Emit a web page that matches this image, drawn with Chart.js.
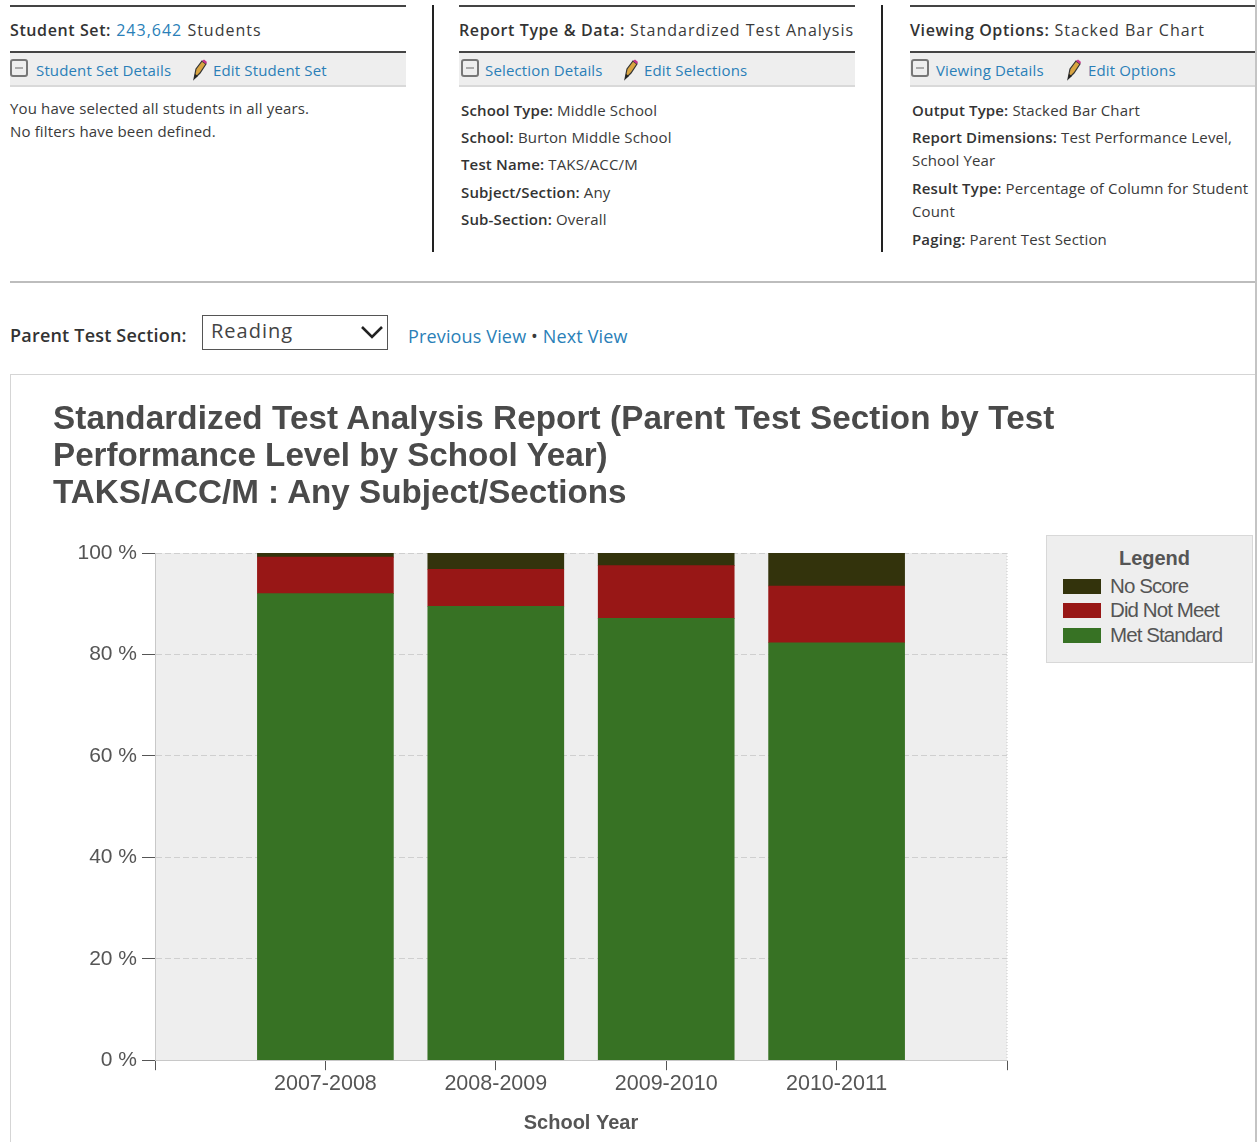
<!DOCTYPE html>
<html>
<head>
<meta charset="utf-8">
<title>Standardized Test Analysis Report</title>
<script src="https://cdn.jsdelivr.net/npm/chart.js@4"></script>
<style>
  html, body { margin: 0; padding: 0; background: #fff; }
  body { position: relative; width: 1257px; height: 1142px; overflow: hidden; font-family: "Open Sans", sans-serif; color: #3a3a3a; }
  .t { position: absolute; font-size: 15px; line-height: 18px; white-space: nowrap; letter-spacing: 0.15px; }
  .t b { font-weight: 600; color: #333; }
  .head { font-size: 16px; letter-spacing: 1px; }
  .head b { letter-spacing: 0.6px; }
  a, .lnk { color: #2a7fb8; text-decoration: none; }
  .rule { position: absolute; height: 2px; background: #444; }
  .vrule { position: absolute; width: 2px; top: 5px; height: 247px; background: #222; }
  .strip { position: absolute; top: 53px; height: 32px; background: #eee; border-bottom: 2px solid #d9d9d9; }
  .minus { position: absolute; top: 59px; width: 18px; height: 18px; box-sizing: border-box; border: 2px solid #777; border-radius: 3px; background: #eee; }
  .minus:after { content: ""; position: absolute; left: 3px; top: 6px; width: 8px; height: 2px; background: #aaa; }
  .pencil { position: absolute; top: 59px; width: 16px; height: 22px; }
  #selectBox { position: absolute; left: 202px; top: 315px; width: 184px; height: 33px; border: 1px solid #555; font-size: 20px; letter-spacing: 1px; line-height: 29px; text-indent: 8px; color: #444; }
  #selectBox svg { position: absolute; right: 3px; top: 8px; }
  #panel { position: absolute; left: 10px; top: 374px; width: 1245px; height: 768px; border-top: 1px solid #d5d5d5; border-left: 1px solid #d5d5d5; box-sizing: border-box; }
  #chartWrap { position: absolute; left: 0; top: 375px; width: 1255px; height: 767px; }
  #chartTitle { position: absolute; left: 53px; top: 399px; font-family: "Liberation Sans", Arial, sans-serif; font-weight: bold; font-size: 33.2px; line-height: 37.2px; color: #4a4a4a; white-space: nowrap; }
  #legendBox { position: absolute; left: 1046px; top: 535px; width: 205px; height: 126px; background: #eee; border: 1px solid #d8d8d8; font-family: "Liberation Sans", Arial, sans-serif; color: #555; }
  #legendBox .ttl { position: absolute; left: 10px; right: 0; top: 10px; text-align: center; font-weight: bold; font-size: 20px; line-height: 24px; }
  #legendBox .row { position: absolute; left: 16px; height: 24px; font-size: 20.5px; letter-spacing: -0.9px; line-height: 24px; white-space: nowrap; }
  #legendBox i { display: inline-block; width: 38px; height: 15px; margin-right: 9px; vertical-align: -1px; }
  #rightEdge { position: absolute; left: 1255px; top: 0; width: 2px; height: 1142px; background: #c4c4c4; }
</style>
</head>
<body>
<div class="rule" style="left:10px;top:5px;width:396px"></div>
<div class="rule" style="left:459px;top:5px;width:396px"></div>
<div class="rule" style="left:910px;top:5px;width:345px"></div>
<div class="rule" style="left:10px;top:51px;width:396px"></div>
<div class="rule" style="left:459px;top:51px;width:396px"></div>
<div class="rule" style="left:910px;top:51px;width:345px"></div>
<div class="strip" style="left:10px;width:396px"></div>
<div class="strip" style="left:459px;width:396px"></div>
<div class="strip" style="left:910px;width:345px"></div>
<div class="vrule" style="left:432px"></div>
<div class="vrule" style="left:881px"></div>

<div class="t head" style="left:10px;top:21px"><b>Student Set:</b> <span class="lnk">243,642</span> Students</div>
<div class="t head" style="left:459px;top:21px"><b>Report Type &amp; Data:</b> Standardized Test Analysis</div>
<div class="t head" style="left:910px;top:21px"><b>Viewing Options:</b> Stacked Bar Chart</div>

<div class="minus" style="left:10px"></div>
<div class="t lnk" style="left:36px;top:61px">Student Set Details</div>
<svg class="pencil" style="left:192px" viewBox="0 0 16 22"><path d="M2 20 L4 10 L10 2 L14 5 L8 14 Z" fill="#d9a441" stroke="#333" stroke-width="1.2"/><path d="M10 2 L14 5 L15 3 L12 0.5 Z" fill="#c8348c"/><path d="M2 20 L3 15 L6 17 Z" fill="#222"/></svg>
<div class="t lnk" style="left:213px;top:61px">Edit Student Set</div>

<div class="minus" style="left:461px"></div>
<div class="t lnk" style="left:485px;top:61px">Selection Details</div>
<svg class="pencil" style="left:623px" viewBox="0 0 16 22"><path d="M2 20 L4 10 L10 2 L14 5 L8 14 Z" fill="#d9a441" stroke="#333" stroke-width="1.2"/><path d="M10 2 L14 5 L15 3 L12 0.5 Z" fill="#c8348c"/><path d="M2 20 L3 15 L6 17 Z" fill="#222"/></svg>
<div class="t lnk" style="left:644px;top:61px">Edit Selections</div>

<div class="minus" style="left:911px"></div>
<div class="t lnk" style="left:936px;top:61px">Viewing Details</div>
<svg class="pencil" style="left:1066px" viewBox="0 0 16 22"><path d="M2 20 L4 10 L10 2 L14 5 L8 14 Z" fill="#d9a441" stroke="#333" stroke-width="1.2"/><path d="M10 2 L14 5 L15 3 L12 0.5 Z" fill="#c8348c"/><path d="M2 20 L3 15 L6 17 Z" fill="#222"/></svg>
<div class="t lnk" style="left:1088px;top:61px">Edit Options</div>

<div class="t" style="left:10px;top:99px">You have selected all students in all years.</div>
<div class="t" style="left:10px;top:122px">No filters have been defined.</div>

<div class="t" style="left:461px;top:101px"><b>School Type:</b> Middle School</div>
<div class="t" style="left:461px;top:128px"><b>School:</b> Burton Middle School</div>
<div class="t" style="left:461px;top:155px"><b>Test Name:</b> TAKS/ACC/M</div>
<div class="t" style="left:461px;top:183px"><b>Subject/Section:</b> Any</div>
<div class="t" style="left:461px;top:210px"><b>Sub-Section:</b> Overall</div>

<div class="t" style="left:912px;top:101px"><b>Output Type:</b> Stacked Bar Chart</div>
<div class="t" style="left:912px;top:128px"><b>Report Dimensions:</b> Test Performance Level,</div>
<div class="t" style="left:912px;top:151px">School Year</div>
<div class="t" style="left:912px;top:179px"><b>Result Type:</b> Percentage of Column for Student</div>
<div class="t" style="left:912px;top:202px">Count</div>
<div class="t" style="left:912px;top:230px"><b>Paging:</b> Parent Test Section</div>

<div class="rule" style="left:10px;top:281px;width:1245px;background:#bdbdbd"></div>

<div class="t" style="left:10px;top:324px;font-size:18px;line-height:22px;letter-spacing:0.2px"><b>Parent Test Section:</b></div>
<div id="selectBox">Reading<svg width="24" height="16" viewBox="0 0 24 16"><path d="M2 3 L12 13 L22 3" fill="none" stroke="#222" stroke-width="2.6"/></svg></div>
<div class="t" style="left:408px;top:326px;font-size:18px;line-height:20px;letter-spacing:0.15px"><span class="lnk">Previous View</span> • <span class="lnk">Next View</span></div>

<div id="panel"></div>
<div id="chartWrap"><canvas id="myChart"></canvas></div>
<div id="chartTitle"></div>
<div id="legendBox"></div>
<div id="rightEdge"></div>

<script>
const years = ["", "2007-2008", "2008-2009", "2009-2010", "2010-2011", ""];
const metStandard = [null, 92.0, 89.5, 87.1, 82.3, null];
const didNotMeet = [null, 7.2, 7.3, 10.4, 11.2, null];
const noScore = [null, 0.8, 3.2, 2.5, 6.5, null];
const yTicks = [0, 20, 40, 60, 80, 100];
const titleLines = [
    "Standardized Test Analysis Report (Parent Test Section by Test",
    "Performance Level by School Year)",
    "TAKS/ACC/M : Any Subject/Sections",
];

const GREEN = "#377224";
const RED = "#981716";
const DARK = "#33330c";
const FONT = '"Liberation Sans", Arial, sans-serif';
const TEXT = "#555555";

// grey plot background and the dotted line on its right side
const plotBack = {
    id: "plotBack",
    beforeDraw(chart) {
        const a = chart.chartArea, c = chart.ctx;
        c.save();
        c.fillStyle = "#eeeeee";
        c.fillRect(a.left, a.top, a.right - a.left, a.bottom - a.top);
        c.strokeStyle = "#c8c8c8";
        c.setLineDash([1, 2]);
        c.beginPath();
        c.moveTo(a.right, a.top);
        c.lineTo(a.right, a.bottom);
        c.stroke();
        c.restore();
    },
};

const datasets = [
    { label: "Met Standard", data: metStandard, backgroundColor: GREEN },
    { label: "Did Not Meet", data: didNotMeet, backgroundColor: RED },
    { label: "No Score", data: noScore, backgroundColor: DARK },
];

const myChart = new Chart(document.getElementById("myChart"), {
    type: "bar",
    data: { labels: years, datasets: datasets },
    plugins: [plotBack],
    options: {
        responsive: true,
        maintainAspectRatio: false,
        animation: false,
        // top padding leaves room for the html title
        layout: { padding: { left: 53, right: 248, top: 178, bottom: 7 } },
        datasets: { bar: { barThickness: 136 } },
        plugins: {
            legend: { display: false },
            tooltip: { enabled: false },
        },
        scales: {
            x: {
                stacked: true,
                offset: false,
                grid: { offset: false, drawOnChartArea: false, drawTicks: true, tickLength: 10, tickColor: "#555", tickWidth: 1 },
                border: { color: "#c8c8c8" },
                ticks: {
                    autoSkip: false,
                    maxRotation: 0,
                    color: TEXT,
                    padding: 1,
                    font: { family: FONT, size: 21.5 },
                },
                title: {
                    display: true,
                    text: "School Year",
                    color: TEXT,
                    font: { family: FONT, size: 20, weight: "bold" },
                    padding: { top: 13, bottom: 0 },
                },
            },
            y: {
                stacked: true,
                min: 0,
                max: 100,
                afterFit(scale) { scale.width = 102; },
                afterBuildTicks(scale) { scale.ticks = yTicks.map(v => ({ value: v })); },
                grid: { color: "#cfcfcf", tickColor: "#555", tickLength: 13, tickBorderDash: [], tickWidth: 1 },
                border: { color: "#c8c8c8", dash: [6, 3] },
                ticks: {
                    color: TEXT,
                    padding: 5,
                    font: { family: FONT, size: 21 },
                    callback: v => v + " %",
                },
            },
        },
    },
});

const chartTitle = document.getElementById("chartTitle");
titleLines.forEach((line, i) => {
    const div = document.createElement("div");
    div.textContent = line;
    if (i === 0) div.style.letterSpacing = "0.11px";
    chartTitle.appendChild(div);
});

// legend keeps the top-down order of the stack
const legendBox = document.getElementById("legendBox");
legendBox.innerHTML = '<div class="ttl">Legend</div>';
datasets.slice().reverse().forEach((d, i) => {
    const row = document.createElement("div");
    row.className = "row";
    row.style.top = (38 + i * 24.3) + "px";
    row.innerHTML = '<i style="background:' + d.backgroundColor + '"></i>' + d.label;
    legendBox.appendChild(row);
});
</script>
</body>
</html>
